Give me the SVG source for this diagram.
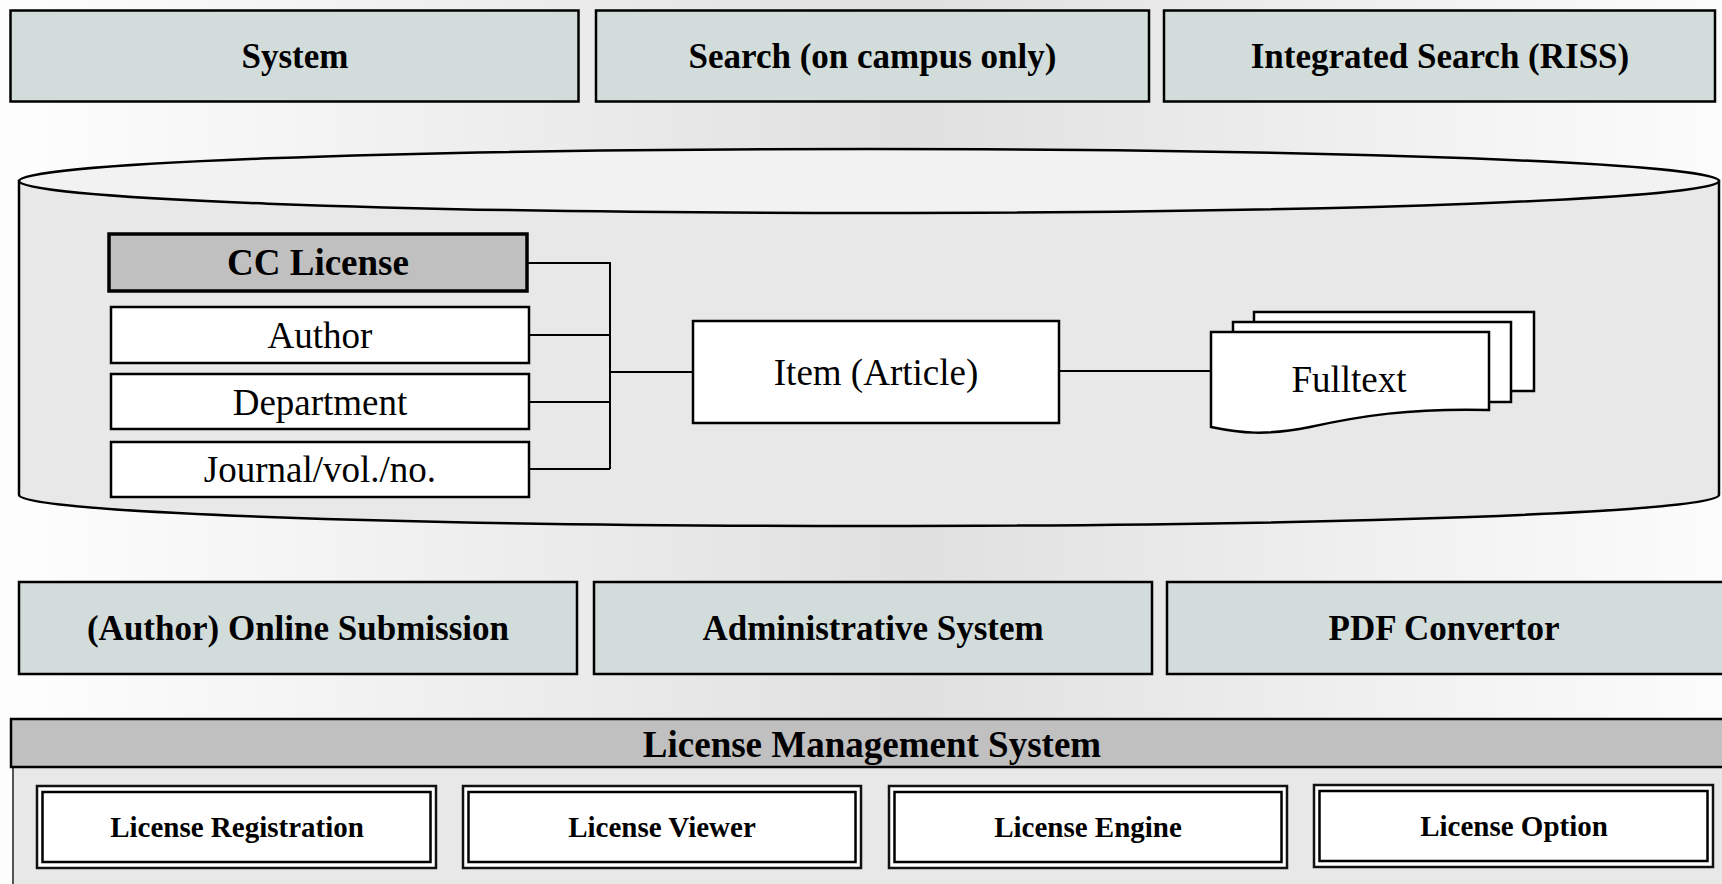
<svg xmlns="http://www.w3.org/2000/svg" width="1722" height="884" viewBox="0 0 1722 884">
<defs>
<linearGradient id="bg" x1="0" y1="0" x2="1" y2="0">
<stop offset="0" stop-color="#fefefe"/>
<stop offset="0.53" stop-color="#e0e0e0"/>
<stop offset="1" stop-color="#fcfcfc"/>
</linearGradient>
<style>
.sys{fill:#d2dcdb;stroke:#000;stroke-width:2.5}
.bt{font-family:"Liberation Serif","Times New Roman",serif;font-weight:bold;fill:#000;text-anchor:middle}
.rt{font-family:"Liberation Serif","Times New Roman",serif;fill:#000;text-anchor:middle}
.wb{fill:#fff;stroke:#000;stroke-width:2.5}
.con{fill:none;stroke:#000;stroke-width:2}
.dbo{fill:#fff;stroke:#111;stroke-width:2.5}
.dbi{fill:#fff;stroke:#000;stroke-width:2.5}
</style>
</defs>
<rect x="0" y="0" width="1722" height="884" fill="url(#bg)"/>

<g id="top-system">
<rect class="sys" x="10.5" y="10.5" width="568" height="91"/>
<text class="bt" x="295" y="68" font-size="35">System</text>
</g>
<g id="top-search">
<rect class="sys" x="596" y="10.5" width="553" height="91"/>
<text class="bt" x="872.5" y="68" font-size="35">Search (on campus only)</text>
</g>
<g id="top-riss">
<rect class="sys" x="1164" y="10.5" width="551" height="91"/>
<text class="bt" x="1440" y="68" font-size="35">Integrated Search (RISS)</text>
</g>

<g id="database">
<path d="M19,181 V495 A850,31 0 0 0 1719,495 V181 Z" fill="#e8e8e8" stroke="#000" stroke-width="2.5"/>
<ellipse cx="869" cy="181" rx="850" ry="32" fill="#f2f2f2" stroke="#000" stroke-width="2.5"/>
</g>

<g id="cc-license">
<rect x="109" y="234" width="418" height="57" fill="#c0c0c0" stroke="#000" stroke-width="3.5"/>
<text class="bt" x="318" y="275" font-size="37">CC License</text>
</g>
<g id="author">
<rect class="wb" x="111" y="307" width="418" height="56"/>
<text class="rt" x="320" y="348" font-size="37">Author</text>
</g>
<g id="department">
<rect class="wb" x="111" y="374" width="418" height="55"/>
<text class="rt" x="320" y="415" font-size="37">Department</text>
</g>
<g id="journal">
<rect class="wb" x="111" y="442" width="418" height="55"/>
<text class="rt" x="320" y="482" font-size="37">Journal/vol./no.</text>
</g>
<g id="item">
<rect class="wb" x="693" y="321" width="366" height="102"/>
<text class="rt" x="876" y="385" font-size="37">Item (Article)</text>
</g>
<g id="fulltext">
<rect x="1254" y="312" width="280" height="79" fill="#fff" stroke="#000" stroke-width="2.5"/>
<rect x="1233" y="322" width="278" height="80" fill="#fff" stroke="#000" stroke-width="2.5"/>
<path d="M1211,332 H1489 V410 C1410,408 1360,416 1310,427 C1265,436 1240,433 1211,427 Z" fill="#fff" stroke="#000" stroke-width="2.5"/>
<text class="rt" x="1349" y="392" font-size="37">Fulltext</text>
</g>

<g id="connectors">
<path class="con" d="M527,263 H610 V469"/>
<path class="con" d="M529,335 H610"/>
<path class="con" d="M529,402 H610"/>
<path class="con" d="M529,469 H610"/>
<path class="con" d="M610,372 H693" stroke-width="3"/>
<path class="con" d="M1059,371 H1211"/>
</g>

<g id="online-submission">
<rect class="sys" x="19" y="582" width="558" height="92"/>
<text class="bt" x="298" y="640" font-size="35">(Author) Online Submission</text>
</g>
<g id="administrative-system">
<rect class="sys" x="594" y="582" width="558" height="92"/>
<text class="bt" x="873" y="640" font-size="35">Administrative System</text>
</g>
<g id="pdf-convertor">
<rect class="sys" x="1167" y="582" width="560" height="92"/>
<text class="bt" x="1444" y="640" font-size="35">PDF Convertor</text>
</g>

<g id="license-management-system">
<rect x="13" y="767" width="1715" height="125" fill="#e8e8e8" stroke="#555" stroke-width="2"/>
<rect x="11" y="719" width="1717" height="48" fill="#c0c0c0" stroke="#000" stroke-width="2.5"/>
<text class="bt" x="872" y="757" font-size="37">License Management System</text>
</g>
<g id="license-registration">
<rect class="dbo" x="37" y="786" width="399" height="82"/>
<rect class="dbi" x="42.5" y="792" width="388" height="70"/>
<text class="bt" x="237" y="837" font-size="29">License Registration</text>
</g>
<g id="license-viewer">
<rect class="dbo" x="463" y="786" width="398" height="82"/>
<rect class="dbi" x="468.5" y="792" width="387" height="70"/>
<text class="bt" x="662" y="837" font-size="29">License Viewer</text>
</g>
<g id="license-engine">
<rect class="dbo" x="889" y="786" width="398" height="82"/>
<rect class="dbi" x="894.5" y="792" width="387" height="70"/>
<text class="bt" x="1088" y="837" font-size="29">License Engine</text>
</g>
<g id="license-option">
<rect class="dbo" x="1314" y="785" width="399" height="82"/>
<rect class="dbi" x="1319.5" y="791" width="388" height="70"/>
<text class="bt" x="1514" y="836" font-size="29">License Option</text>
</g>
</svg>
